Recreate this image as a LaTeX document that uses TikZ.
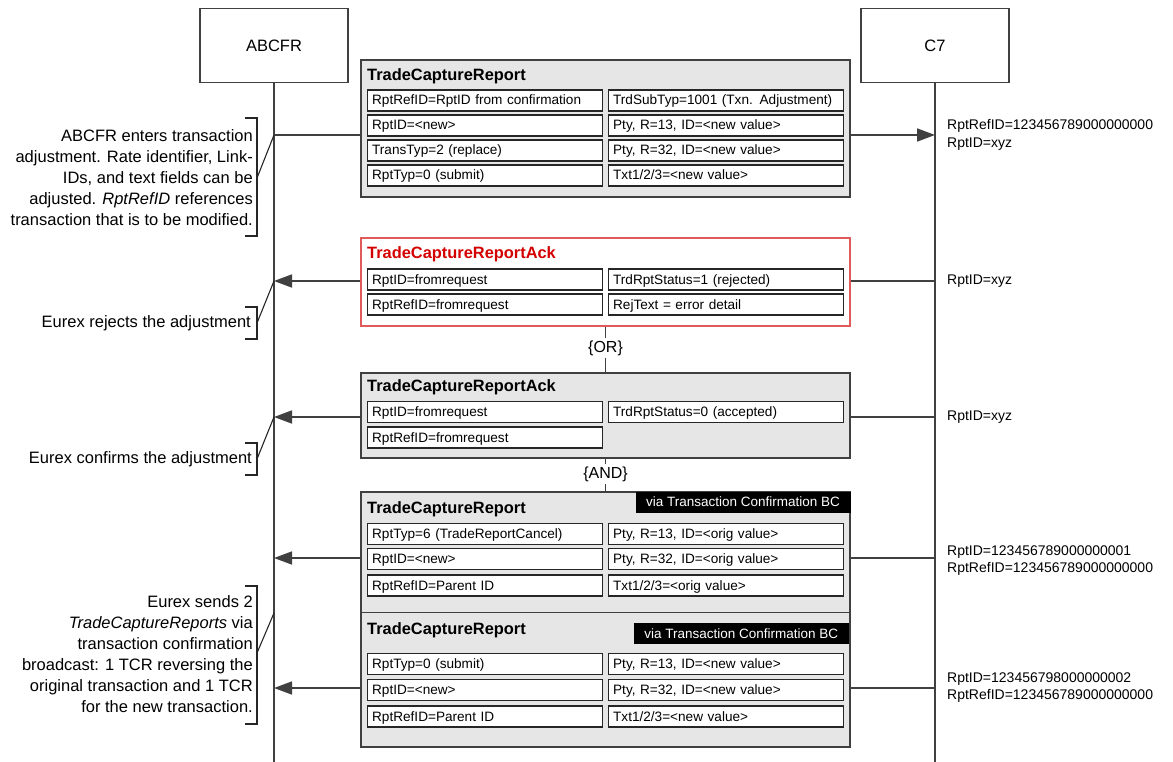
\documentclass[tikz,border=0pt]{standalone}
\usepackage{fontspec}
\setmainfont{Liberation Sans}
\usetikzlibrary{arrows.meta}
\definecolor{lline}{HTML}{404040}
\definecolor{boxgray}{HTML}{E6E6E6}
\definecolor{ackred}{HTML}{E05A5A}
\definecolor{titlered}{HTML}{D40000}
\begin{document}
\begin{tikzpicture}[x=1pt,y=-1pt,
  head/.style={draw=lline,line width=1.3pt,fill=white,minimum width=148pt,minimum height=74pt,inner sep=0,font=\fontsize{16.5}{20}\selectfont},
  life/.style={draw=lline,line width=1.4pt},
  msg/.style={draw=lline,line width=1.6pt},
  tip/.style={-{Triangle[length=18pt,width=13pt]}},
  grp/.style={draw=lline,line width=1.4pt,fill=boxgray,minimum width=489pt,inner sep=0},
  redgrp/.style={draw=ackred,line width=1.1pt,fill=white,minimum width=489pt,inner sep=0},
  cell/.style={draw=black!85,line width=1.3pt,fill=white,minimum height=21pt,text width=226pt,text height=11.5pt,text depth=2.5pt,inner xsep=4.5pt,inner ysep=0,align=left,font=\fontsize{13.6}{15}\selectfont,anchor=west},
  ttl/.style={font=\bfseries\fontsize{16.4}{19}\selectfont,anchor=west,inner sep=0},
  via/.style={fill=black,text=white,font=\fontsize{13.5}{16}\selectfont,minimum height=21pt,minimum width=215pt,inner xsep=6pt,inner ysep=0,anchor=north east},
  note/.style={anchor=east,align=right,inner sep=0,font=\fontsize{16.5}{21}\selectfont},
  rnote/.style={anchor=west,align=left,inner sep=0,font=\fontsize{14}{17.5}\selectfont},
  brk/.style={draw=black!85,line width=1.1pt},
  cond/.style={font=\fontsize{16}{19}\selectfont,inner sep=2pt}
]
\useasboundingbox (0,0) rectangle (1173,762);

% lifeline heads
\node[head] (abc) at (274,45.5) {ABCFR};
\node[head] (c7) at (935,45.5) {C7};
\coordinate (abcEnd) at (274,762);
\coordinate (c7End) at (935,762);
\draw[life] (abc.south) -- (abcEnd);
\draw[life] (c7.south) -- (c7End);

% message anchor points
\coordinate (a1) at (274,135); \coordinate (c1) at (935,135);
\coordinate (a2) at (274,281); \coordinate (c2) at (935,281);
\coordinate (a3) at (274,417); \coordinate (c3) at (935,417);
\coordinate (a4) at (274,558); \coordinate (c4) at (935,558);
\coordinate (a5) at (274,688); \coordinate (c5) at (935,688);
\coordinate (a6) at (274,613);

\draw[msg,tip] (a1) -- (c1);
\draw[msg,tip] (c2) -- (a2);
\draw[msg,tip] (c3) -- (a3);
\draw[msg,tip] (c4) -- (a4);
\draw[msg,tip] (c5) -- (a5);

% Box 1
\node[grp,minimum height=137pt] (m1) at (605.5,128.5) {};
\node[ttl] (m1t) at (367,76) {TradeCaptureReport};
\node[cell] (m1l1) at (367,100.5) {RptRefID=RptID from confirmation};
\node[cell] (m1l2) at (367,125.5) {RptID=<new>};
\node[cell] (m1l3) at (367,150.5) {TransTyp=2 (replace)};
\node[cell] (m1l4) at (367,175.5) {RptTyp=0 (submit)};
\node[cell] (m1r1) at (608,100.5) {TrdSubTyp=1001 (Txn. Adjustment)};
\node[cell] (m1r2) at (608,125.5) {Pty, R=13, ID=<new value>};
\node[cell] (m1r3) at (608,150.5) {Pty, R=32, ID=<new value>};
\node[cell] (m1r4) at (608,175.5) {Txt1/2/3=<new value>};

% Box 2 (rejected)
\node[redgrp,minimum height=88pt] (m2) at (605.5,282) {};
\node[ttl,text=titlered] (m2t) at (367,254) {TradeCaptureReportAck};
\node[cell] (m2l1) at (367,279.5) {RptID=fromrequest};
\node[cell] (m2l2) at (367,304.5) {RptRefID=fromrequest};
\node[cell] (m2r1) at (608,279.5) {TrdRptStatus=1 (rejected)};
\node[cell] (m2r2) at (608,304.5) {RejText = error detail};

% OR
\node[cond] (or) at (605.5,348) {\{OR\}};

% Box 3 (accepted)
\node[grp,minimum height=85pt] (m3) at (605.5,415.5) {};
\node[ttl] (m3t) at (367,387) {TradeCaptureReportAck};
\node[cell] (m3l1) at (367,412) {RptID=fromrequest};
\node[cell] (m3l2) at (367,437.5) {RptRefID=fromrequest};
\node[cell] (m3r1) at (608,412) {TrdRptStatus=0 (accepted)};

\draw[life] (m2.south) -- (or.north);
\draw[life] (or.south) -- (m3.north);

% AND
\node[cond] (and) at (605.5,474) {\{AND\}};

% Box 4
\node[grp,minimum height=120.5pt] (m4) at (605.5,552.25) {};
\node[via] (m4v) at (m4.north east) {via Transaction Confirmation BC};
\node[ttl] (m4t) at (367,509) {TradeCaptureReport};
\node[cell] (m4l1) at (367,534) {RptTyp=6 (TradeReportCancel)};
\node[cell] (m4l2) at (367,559) {RptID=<new>};
\node[cell] (m4l3) at (367,585.5) {RptRefID=Parent ID};
\node[cell] (m4r1) at (608,534) {Pty, R=13, ID=<orig value>};
\node[cell] (m4r2) at (608,559) {Pty, R=32, ID=<orig value>};
\node[cell] (m4r3) at (608,585.5) {Txt1/2/3=<orig value>};

\draw[life] (m3.south) -- (and.north);
\draw[life] (and.south) -- (m4.north);

% Box 5
\node[grp,minimum height=134.5pt] (m5) at (605.5,679.75) {};
\coordinate (m5v) at (849,623);
\node[via] (m5vl) at (m5v) {via Transaction Confirmation BC};
\node[ttl] (m5t) at (367,630) {TradeCaptureReport};
\node[cell] (m5l1) at (367,664) {RptTyp=0 (submit)};
\node[cell] (m5l2) at (367,690) {RptID=<new>};
\node[cell] (m5l3) at (367,716.5) {RptRefID=Parent ID};
\node[cell] (m5r1) at (608,664) {Pty, R=13, ID=<new value>};
\node[cell] (m5r2) at (608,690) {Pty, R=32, ID=<new value>};
\node[cell] (m5r3) at (608,716.5) {Txt1/2/3=<new value>};

% right notes
\node[rnote] (r1) at (947,135) {RptRefID=123456789000000000\\RptID=xyz};
\node[rnote] (r2) at (947,281) {RptID=xyz};
\node[rnote] (r3) at (947,417) {RptID=xyz};
\node[rnote] (r4) at (947,560.5) {RptID=123456789000000001\\RptRefID=123456789000000000};
\node[rnote] (r5) at (947,687.5) {RptID=123456798000000002\\RptRefID=123456789000000000};

% left notes
\node[note] (n1) at (253,177.5) {ABCFR enters transaction\\adjustment. Rate identifier, Link-\\IDs, and text fields can be\\adjusted. \textit{RptRefID} references\\transaction that is to be modified.};
\node[note] (n2) at (251,323) {Eurex rejects the adjustment};
\node[note] (n3) at (252,459) {Eurex confirms the adjustment};
\node[note] (n4) at (253,654.5) {Eurex sends 2\\\textit{TradeCaptureReports} via\\transaction confirmation\\broadcast: 1 TCR reversing the\\original transaction and 1 TCR\\for the new transaction.};

% brackets
\coordinate (b1t) at (257,118); \coordinate (b1b) at (257,236); \coordinate (b1m) at (257,178);
\coordinate (b2t) at (257,307); \coordinate (b2b) at (257,339); \coordinate (b2m) at (257,323);
\coordinate (b3t) at (257,443); \coordinate (b3b) at (257,475); \coordinate (b3m) at (257,459);
\coordinate (b4t) at (257,586); \coordinate (b4b) at (257,724); \coordinate (b4m) at (257,653);
\foreach \b in {b1,b2,b3,b4}{
  \draw[brk] ([xshift=-12pt]\b t) -- (\b t) -- (\b b) -- ([xshift=-12pt]\b b);
}
\draw[brk] (b1m) -- (a1);
\draw[brk] (b2m) -- (a2);
\draw[brk] (b3m) -- (a3);
\draw[brk] (b4m) -- (a6);
\end{tikzpicture}
\end{document}
